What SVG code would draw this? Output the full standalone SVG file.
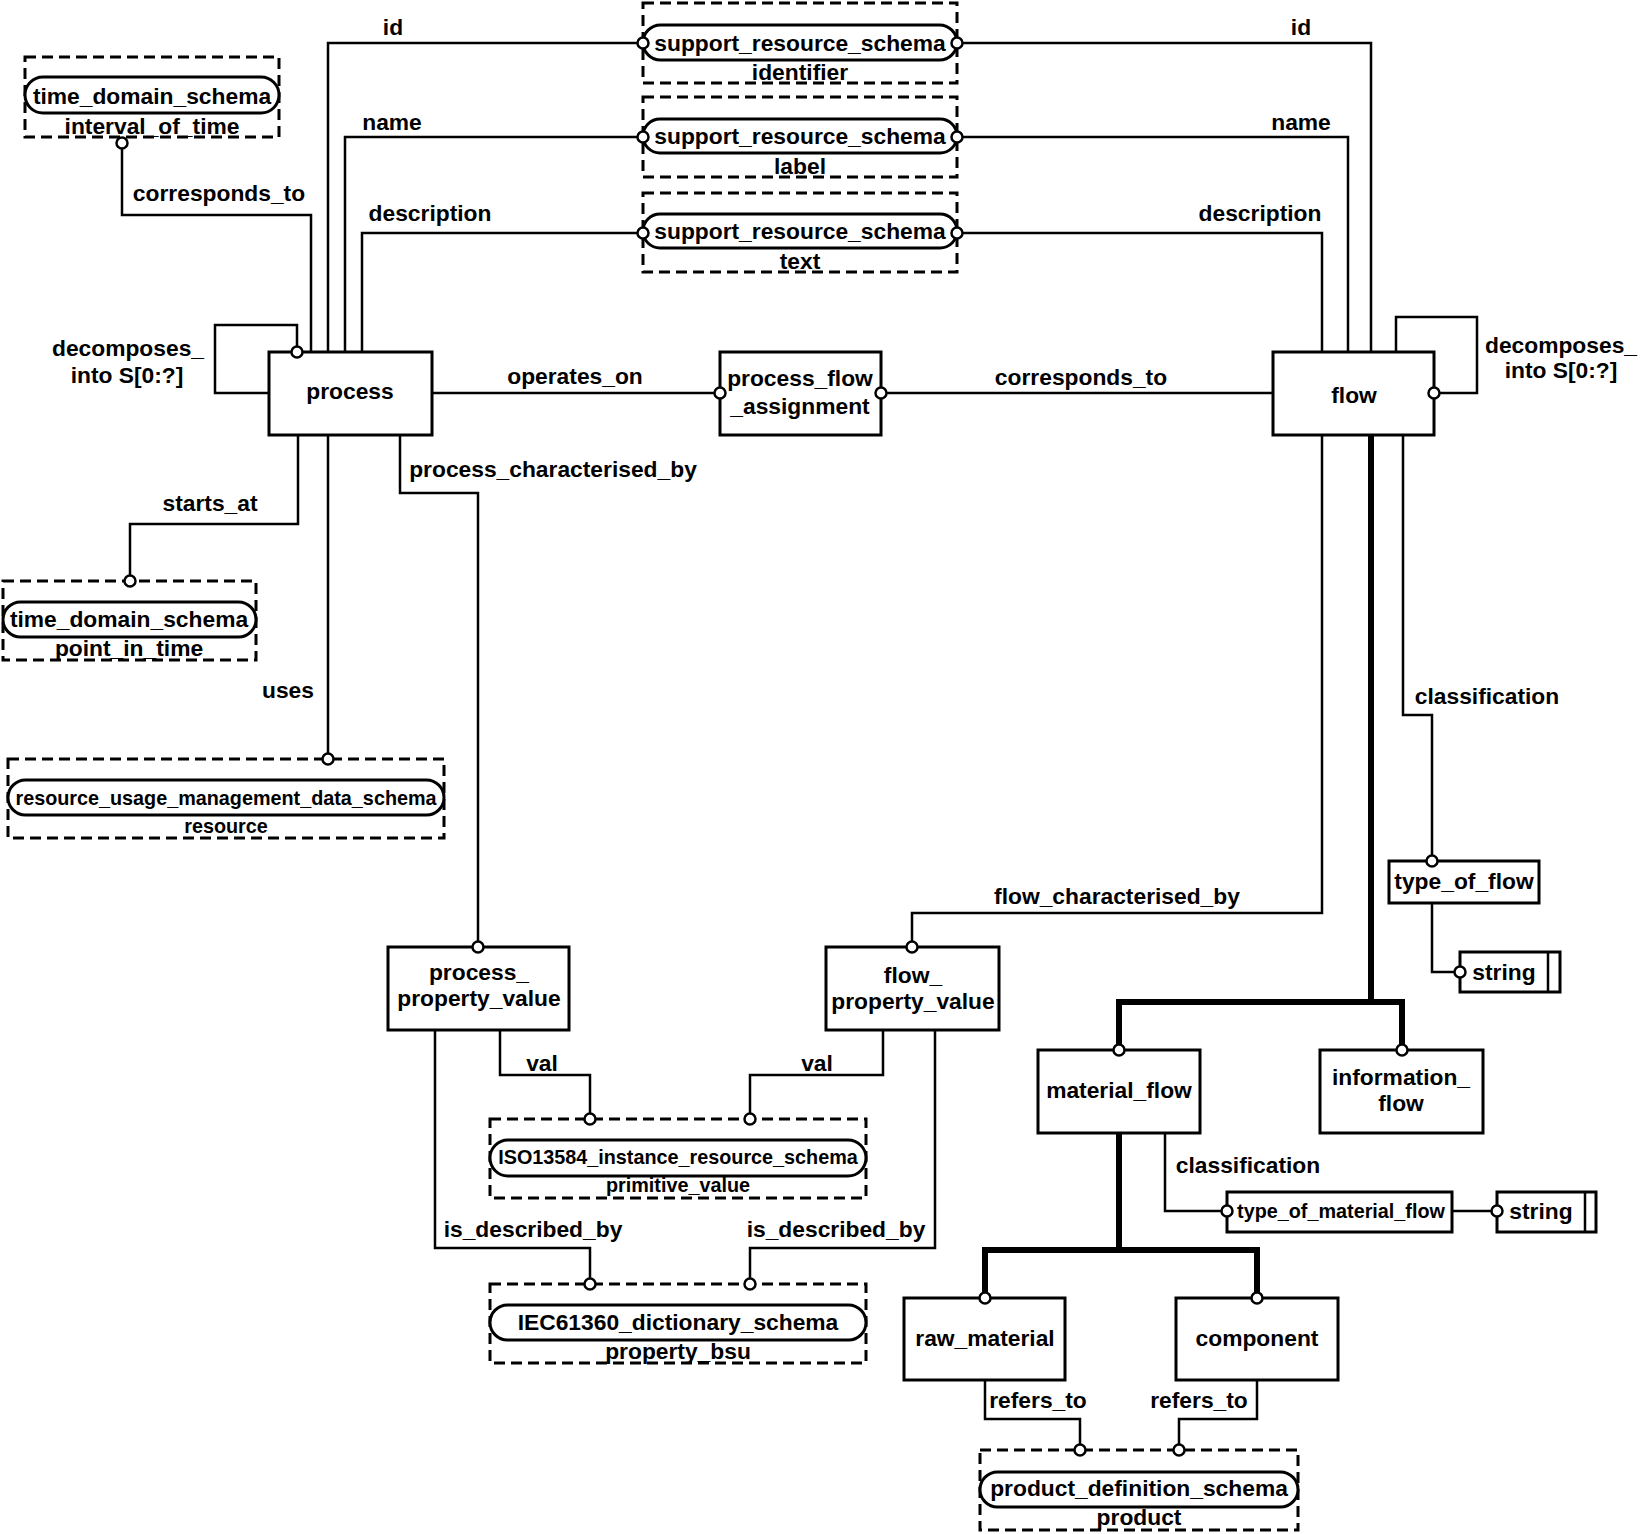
<svg xmlns="http://www.w3.org/2000/svg" width="1642" height="1534" viewBox="0 0 1642 1534">
<style>
.box{fill:#fff;stroke:#000;stroke-width:3}
.dash{fill:#fff;stroke:#000;stroke-width:3;stroke-dasharray:11 6}
.pill{fill:#fff;stroke:#000;stroke-width:3}
.ln{fill:none;stroke:#000;stroke-width:2.5}
.thick{fill:none;stroke:#000;stroke-width:6}
.c{fill:#fff;stroke:#000;stroke-width:2.5}
text{font-family:"Liberation Sans",Arial,sans-serif;font-weight:bold;font-size:22.8px;text-anchor:middle;dominant-baseline:central;fill:#000}
text.s{font-size:19.8px}
</style>
<rect width="1642" height="1534" fill="#fff"/>

<g id="interval_of_time">
<rect class="dash" x="25" y="57" width="254" height="80"/>
<rect class="pill" x="25" y="77" width="254" height="36" rx="18"/>
<text x="152" y="96">time_domain_schema</text>
<text x="152" y="126">interval_of_time</text>
</g>
<g id="identifier">
<rect class="dash" x="643" y="3" width="314" height="80"/>
<rect class="pill" x="643" y="25" width="314" height="35" rx="17.5"/>
<text x="800" y="43">support_resource_schema</text>
<text x="800" y="72">identifier</text>
</g>
<g id="label">
<rect class="dash" x="643" y="97" width="314" height="80"/>
<rect class="pill" x="643" y="119" width="314" height="34" rx="17"/>
<text x="800" y="136">support_resource_schema</text>
<text x="800" y="166">label</text>
</g>
<g id="text_node">
<rect class="dash" x="643" y="193" width="314" height="79"/>
<rect class="pill" x="643" y="214" width="314" height="34" rx="17"/>
<text x="800" y="231">support_resource_schema</text>
<text x="800" y="261">text</text>
</g>
<g id="point_in_time">
<rect class="dash" x="3" y="581" width="253" height="79"/>
<rect class="pill" x="3" y="602" width="253" height="35" rx="17.5"/>
<text x="129" y="619">time_domain_schema</text>
<text x="129" y="648">point_in_time</text>
</g>
<g id="resource">
<rect class="dash" x="8" y="759" width="436" height="79"/>
<rect class="pill" x="8" y="780" width="436" height="35" rx="17.5"/>
<text class="s" x="226" y="798">resource_usage_management_data_schema</text>
<text class="s" x="226" y="826">resource</text>
</g>
<g id="primitive_value">
<rect class="dash" x="490" y="1119" width="376" height="79"/>
<rect class="pill" x="490" y="1140" width="376" height="36" rx="18"/>
<text class="s" x="678" y="1157">ISO13584_instance_resource_schema</text>
<text class="s" x="678" y="1185">primitive_value</text>
</g>
<g id="property_bsu">
<rect class="dash" x="490" y="1284" width="376" height="79"/>
<rect class="pill" x="490" y="1305" width="376" height="35" rx="17.5"/>
<text x="678" y="1322">IEC61360_dictionary_schema</text>
<text x="678" y="1351">property_bsu</text>
</g>
<g id="product">
<rect class="dash" x="980" y="1450" width="318" height="80"/>
<rect class="pill" x="980" y="1472" width="318" height="35" rx="17.5"/>
<text x="1139" y="1488">product_definition_schema</text>
<text x="1139" y="1517">product</text>
</g>

<g id="process">
<rect class="box" x="269" y="352" width="163" height="83"/>
<text x="350" y="391">process</text>
</g>
<g id="process_flow_assignment">
<rect class="box" x="720" y="352" width="161" height="83"/>
<text x="800" y="378">process_flow</text>
<text x="800" y="406">_assignment</text>
</g>
<g id="flow">
<rect class="box" x="1273" y="352" width="161" height="83"/>
<text x="1354" y="395">flow</text>
</g>
<g id="process_property_value">
<rect class="box" x="388" y="947" width="181" height="83"/>
<text x="479" y="972">process_</text>
<text x="479" y="998">property_value</text>
</g>
<g id="flow_property_value">
<rect class="box" x="826" y="947" width="173" height="83"/>
<text x="913" y="975">flow_</text>
<text x="913" y="1001">property_value</text>
</g>
<g id="material_flow">
<rect class="box" x="1038" y="1050" width="162" height="83"/>
<text x="1119" y="1090">material_flow</text>
</g>
<g id="information_flow">
<rect class="box" x="1320" y="1050" width="163" height="83"/>
<text x="1401" y="1077">information_</text>
<text x="1401" y="1103">flow</text>
</g>
<g id="raw_material">
<rect class="box" x="904" y="1298" width="161" height="82"/>
<text x="985" y="1338">raw_material</text>
</g>
<g id="component">
<rect class="box" x="1176" y="1298" width="162" height="82"/>
<text x="1257" y="1338">component</text>
</g>
<g id="type_of_flow">
<rect class="box" x="1389" y="861" width="150" height="42"/>
<text x="1464" y="881">type_of_flow</text>
</g>
<g id="string1">
<rect class="box" x="1460" y="952" width="100" height="40"/>
<line class="ln" x1="1548" y1="952" x2="1548" y2="992"/>
<text x="1504" y="972">string</text>
</g>
<g id="type_of_material_flow">
<rect class="box" x="1227" y="1192" width="225" height="40"/>
<text class="s" x="1341" y="1211">type_of_material_flow</text>
</g>
<g id="string2">
<rect class="box" x="1497" y="1192" width="99" height="40"/>
<line class="ln" x1="1585" y1="1192" x2="1585" y2="1232"/>
<text x="1541" y="1211">string</text>
</g>

<g id="connectors">
<!-- process top -->
<polyline class="ln" points="122,148 122,215 311,215 311,352"/>
<polyline class="ln" points="297,346 297,325 215,325 215,393 269,393"/>
<polyline class="ln" points="328,352 328,43 637,43"/>
<polyline class="ln" points="345,352 345,137 637,137"/>
<polyline class="ln" points="362,352 362,233 637,233"/>
<!-- flow top -->
<polyline class="ln" points="963,43 1371,43 1371,352"/>
<polyline class="ln" points="963,137 1348,137 1348,352"/>
<polyline class="ln" points="963,233 1322,233 1322,352"/>
<polyline class="ln" points="1396,352 1396,317 1477,317 1477,393 1440,393"/>
<!-- horizontal -->
<line class="ln" x1="432" y1="393" x2="714" y2="393"/>
<line class="ln" x1="887" y1="393" x2="1273" y2="393"/>
<!-- process bottom -->
<polyline class="ln" points="298,435 298,524 130,524 130,575"/>
<line class="ln" x1="328" y1="435" x2="328" y2="753"/>
<polyline class="ln" points="400,435 400,493 478,493 478,941"/>
<!-- flow bottom -->
<polyline class="ln" points="1322,435 1322,913 912,913 912,941"/>
<polyline class="ln" points="1403,435 1403,715 1432,715 1432,855"/>
<polyline class="ln" points="1432,903 1432,972 1454,972"/>
<polyline class="thick" points="1371,435 1371,1002"/>
<polyline class="thick" points="1119,1044 1119,1002 1402,1002 1402,1044"/>
<!-- property values -->
<polyline class="ln" points="500,1030 500,1075 590,1075 590,1113"/>
<polyline class="ln" points="883,1030 883,1075 750,1075 750,1113"/>
<polyline class="ln" points="435,1030 435,1248 590,1248 590,1278"/>
<polyline class="ln" points="935,1030 935,1248 750,1248 750,1278"/>
<!-- material flow -->
<polyline class="ln" points="1165,1133 1165,1211 1221,1211"/>
<line class="ln" x1="1452" y1="1211" x2="1491" y2="1211"/>
<polyline class="thick" points="1119,1133 1119,1250"/>
<polyline class="thick" points="985,1292 985,1250 1257,1250 1257,1292"/>
<polyline class="ln" points="985,1380 985,1419 1080,1419 1080,1444"/>
<polyline class="ln" points="1257,1380 1257,1419 1179,1419 1179,1444"/>

<!-- circles -->
<circle class="c" cx="122" cy="143" r="5.5"/>
<circle class="c" cx="297" cy="352" r="5.5"/>
<circle class="c" cx="643" cy="43" r="5.5"/>
<circle class="c" cx="643" cy="137" r="5.5"/>
<circle class="c" cx="643" cy="233" r="5.5"/>
<circle class="c" cx="957" cy="43" r="5.5"/>
<circle class="c" cx="957" cy="137" r="5.5"/>
<circle class="c" cx="957" cy="233" r="5.5"/>
<circle class="c" cx="1434" cy="393" r="5.5"/>
<circle class="c" cx="720" cy="393" r="5.5"/>
<circle class="c" cx="881" cy="393" r="5.5"/>
<circle class="c" cx="130" cy="581" r="5.5"/>
<circle class="c" cx="328" cy="759" r="5.5"/>
<circle class="c" cx="478" cy="947" r="5.5"/>
<circle class="c" cx="912" cy="947" r="5.5"/>
<circle class="c" cx="1432" cy="861" r="5.5"/>
<circle class="c" cx="1460" cy="972" r="5.5"/>
<circle class="c" cx="1119" cy="1050" r="5.5"/>
<circle class="c" cx="1402" cy="1050" r="5.5"/>
<circle class="c" cx="590" cy="1119" r="5.5"/>
<circle class="c" cx="750" cy="1119" r="5.5"/>
<circle class="c" cx="590" cy="1284" r="5.5"/>
<circle class="c" cx="750" cy="1284" r="5.5"/>
<circle class="c" cx="1227" cy="1211" r="5.5"/>
<circle class="c" cx="1497" cy="1211" r="5.5"/>
<circle class="c" cx="985" cy="1298" r="5.5"/>
<circle class="c" cx="1257" cy="1298" r="5.5"/>
<circle class="c" cx="1080" cy="1450" r="5.5"/>
<circle class="c" cx="1179" cy="1450" r="5.5"/>

<!-- labels -->
<text x="393" y="27">id</text>
<text x="392" y="122">name</text>
<text x="430" y="213">description</text>
<text x="1301" y="27">id</text>
<text x="1301" y="122">name</text>
<text x="1260" y="213">description</text>
<text x="219" y="193">corresponds_to</text>
<text x="128" y="348">decomposes_</text>
<text x="127" y="375">into S[0:?]</text>
<text x="1561" y="345">decomposes_</text>
<text x="1561" y="370">into S[0:?]</text>
<text x="575" y="376">operates_on</text>
<text x="1081" y="377">corresponds_to</text>
<text x="210" y="503">starts_at</text>
<text x="288" y="690">uses</text>
<text x="553" y="469">process_characterised_by</text>
<text x="1117" y="896">flow_characterised_by</text>
<text x="1487" y="696">classification</text>
<text x="542" y="1063">val</text>
<text x="817" y="1063">val</text>
<text x="533" y="1229">is_described_by</text>
<text x="836" y="1229">is_described_by</text>
<text x="1248" y="1165">classification</text>
<text x="1038" y="1400">refers_to</text>
<text x="1199" y="1400">refers_to</text>
</g>
</svg>
